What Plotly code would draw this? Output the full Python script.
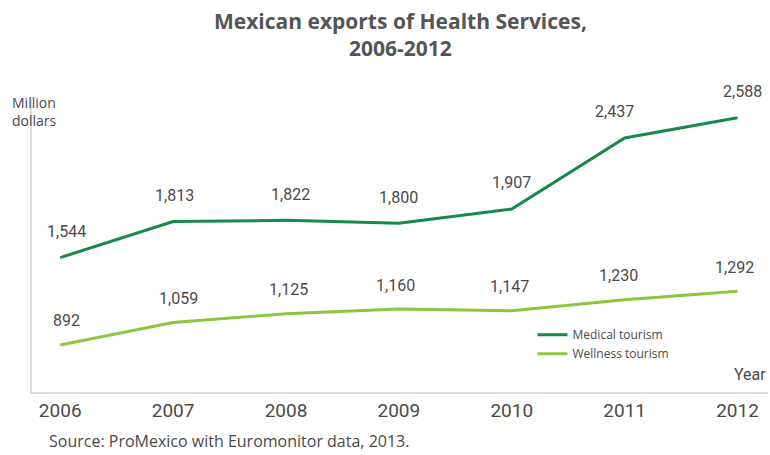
import plotly.graph_objects as go

years = [2006, 2007, 2008, 2009, 2010, 2011, 2012]
year_labels = ["2006", "2007", "2008", "2009", "2010", "2011", "2012"]
medical = [1544, 1813, 1822, 1800, 1907, 2437, 2588]
wellness = [892, 1059, 1125, 1160, 1147, 1230, 1292]

MED_COLOR = "#17894a"
WELL_COLOR = "#8cc63e"
TEXT = "#4a4a4a"
NARROW = "Roboto, Arial"

med_dx = [6, 1, 5, 0, 0, -10, 5]
well_dx = [6, 5, 3, -3, -2, -6, -3]

fig = go.Figure()
fig.add_trace(go.Scatter(x=years, y=medical, mode="lines", name="Medical tourism",
                         line=dict(color=MED_COLOR, width=3)))
fig.add_trace(go.Scatter(x=years, y=wellness, mode="lines", name="Wellness tourism",
                         line=dict(color=WELL_COLOR, width=3)))

annotations = []
for x, v, dx in zip(years, medical, med_dx):
    annotations.append(dict(x=x, y=v, text=f"{v:,}", showarrow=False, xshift=dx, yshift=26,
                            font=dict(family=NARROW, size=16, color=TEXT)))
for x, v, dx in zip(years, wellness, well_dx):
    annotations.append(dict(x=x, y=v, text=f"{v:,}", showarrow=False, xshift=dx, yshift=24,
                            font=dict(family=NARROW, size=16, color=TEXT)))

annotations.append(dict(xref="paper", yref="paper", x=1.0, y=0.02, xanchor="right", yanchor="bottom",
                        text="Year", showarrow=False, font=dict(family=NARROW, size=16, color=TEXT)))
annotations.append(dict(xref="paper", yref="paper", x=-0.03, y=1.03, xanchor="left", yanchor="top",
                        text="Million<br>dollars", showarrow=False, align="left",
                        font=dict(family="Open Sans", size=14, color=TEXT)))
annotations.append(dict(xref="paper", yref="paper", x=0.02, y=-0.123, xanchor="left", yanchor="top",
                        text="Source: ProMexico with Euromonitor data, 2013.", showarrow=False,
                        font=dict(family="Open Sans", size=16, color=TEXT)))
annotations.append(dict(xref="paper", yref="paper", x=0.5, y=1.325, xanchor="center", yanchor="top",
                        text="<b>Mexican exports of Health Services,<br>2006-2012</b>", showarrow=False,
                        font=dict(family="Open Sans", size=21, color="#555555")))

fig.update_layout(
    width=770, height=455,
    margin=dict(l=32, r=2, t=100, b=63),
    paper_bgcolor="white", plot_bgcolor="white",
    xaxis=dict(range=[2005.75, 2012.27], tickvals=years, ticktext=year_labels,
               showgrid=False, zeroline=False, showline=True, linecolor="#dddddd", linewidth=2,
               ticks="", tickfont=dict(family=NARROW, size=19, color=TEXT)),
    yaxis=dict(range=[541, 2720], showgrid=False, zeroline=False, showline=True,
               linecolor="#dddddd", linewidth=2, showticklabels=False, ticks=""),
    legend=dict(x=0.68, y=0.246, xanchor="left", yanchor="top", bgcolor="rgba(0,0,0,0)",
                font=dict(family="Open Sans", size=12, color=TEXT), tracegroupgap=0),
    annotations=annotations,
    showlegend=True,
)

fig.write_html("out.html")
